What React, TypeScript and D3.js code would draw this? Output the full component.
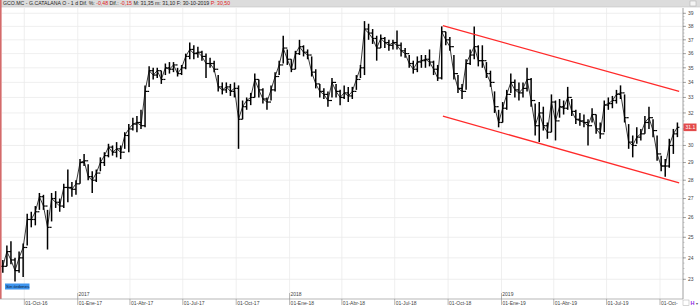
import React from 'react';
import * as d3 from 'd3';

const W = 700;
const H = 307;

// weekly bars, first week starting on START, one week apart
const START = '2016-08-25';
const HIGH = [
  23.9, 24.6, 24.8, 24.0, 24.3, 24.7, 26.2, 26.3, 26.6, 27.3, 27.2, 26.4, 27.3, 27.4, 27.0, 27.8, 28.6, 27.9, 28.0, 29.2,
  29.5, 28.9, 28.5, 28.6, 29.3, 29.6, 30.1, 30.0, 30.2, 30.0, 30.8, 31.3, 31.7, 31.8, 32.2, 33.8, 35.1, 35.0, 35.0, 34.8,
  35.3, 35.4, 35.4, 35.0, 35.2, 36.0, 36.8, 36.6, 36.5, 36.2, 36.0, 35.7, 35.5, 34.5, 34.0, 34.0, 33.9, 34.0, 33.8, 32.8,
  33.0, 33.3, 34.6, 34.2, 33.6, 33.0, 33.8, 34.7, 35.5, 37.3, 36.3, 35.6, 36.2, 37.0, 36.6, 36.3, 35.8, 34.9, 33.9, 33.6,
  33.4, 34.3, 33.9, 33.5, 33.8, 33.7, 33.7, 34.5, 35.2, 38.4, 38.2, 37.8, 37.3, 37.4, 37.2, 37.0, 37.0, 37.7, 36.8, 36.4,
  35.9, 35.5, 35.8, 35.9, 35.9, 36.3, 35.5, 35.2, 38.0, 37.6, 37.2, 35.9, 34.5, 33.9, 35.6, 36.3, 38.0, 36.6, 36.6, 35.4,
  34.8, 33.4, 32.2, 32.7, 33.5, 34.6, 34.2, 34.0, 34.0, 35.0, 34.3, 32.6, 32.7, 32.4, 31.4, 33.2, 32.8, 32.9, 32.8, 33.7,
  32.9, 32.2, 32.0, 31.9, 31.6, 32.3, 31.9, 31.4, 32.8, 33.0, 33.1, 33.5, 33.8, 33.2, 31.3, 30.6, 31.1, 31.0, 31.8, 32.4,
  31.6, 30.6, 29.4, 29.2, 30.4, 31.0, 31.4,
];
const LOW = [
  23.3, 23.6, 23.7, 22.9, 23.3, 23.1, 24.6, 25.5, 25.6, 26.4, 26.4, 24.4, 25.8, 26.5, 26.3, 26.5, 26.8, 27.1, 27.2, 27.8,
  28.8, 28.0, 27.3, 27.9, 28.5, 28.8, 29.3, 29.4, 29.3, 29.2, 29.8, 29.6, 30.9, 30.8, 31.0, 31.1, 33.7, 34.2, 34.3, 33.9,
  34.5, 34.6, 34.7, 34.4, 34.5, 34.9, 35.6, 35.6, 35.7, 35.5, 34.3, 35.0, 34.7, 33.4, 33.2, 33.3, 33.1, 33.0, 29.8, 31.6,
  32.2, 32.5, 33.0, 33.0, 32.6, 32.2, 32.8, 33.4, 34.5, 35.3, 35.2, 34.7, 34.9, 35.9, 35.8, 35.6, 34.4, 33.6, 33.0, 32.9,
  32.4, 33.0, 33.0, 32.5, 32.9, 32.7, 32.9, 33.5, 34.3, 34.5, 37.0, 36.7, 35.5, 36.4, 36.4, 36.2, 36.3, 36.3, 35.8, 35.7,
  35.0, 34.6, 34.7, 35.0, 35.0, 35.1, 34.5, 34.1, 34.2, 36.6, 36.2, 34.2, 33.3, 32.9, 33.5, 35.2, 35.6, 35.1, 35.0, 34.3,
  33.7, 32.0, 31.1, 31.4, 32.2, 33.3, 33.0, 32.8, 33.0, 33.4, 32.4, 30.6, 30.2, 30.9, 30.4, 30.8, 30.3, 31.7, 31.9, 32.2,
  31.8, 31.3, 31.2, 31.1, 30.0, 31.4, 30.7, 30.4, 30.8, 32.2, 32.3, 32.6, 32.9, 31.4, 29.8, 29.3, 30.1, 30.3, 30.7, 31.0,
  30.5, 29.1, 28.5, 28.2, 28.7, 29.5, 30.5,
];
const CLOSE = [
  23.6, 24.3, 23.9, 23.4, 24.0, 24.5, 25.9, 25.9, 26.3, 27.1, 26.6, 25.5, 27.0, 26.8, 26.6, 27.6, 27.6, 27.5, 27.8, 29.0,
  29.1, 28.2, 28.0, 28.4, 29.0, 29.4, 29.9, 29.6, 29.8, 29.6, 30.6, 31.0, 31.3, 31.4, 31.2, 33.4, 34.8, 34.5, 34.8, 34.2,
  35.0, 34.9, 35.2, 34.6, 35.0, 35.8, 36.3, 36.0, 36.1, 35.8, 35.3, 35.3, 34.9, 33.7, 33.5, 33.7, 33.4, 33.6, 31.6, 32.4,
  32.8, 33.0, 34.2, 33.5, 32.9, 32.7, 33.5, 34.4, 35.2, 36.4, 35.6, 34.9, 36.0, 36.5, 36.1, 35.9, 34.7, 33.9, 33.4, 33.2,
  32.8, 34.0, 33.4, 33.0, 33.3, 33.1, 33.4, 34.2, 35.0, 37.8, 37.5, 37.1, 36.4, 37.1, 36.8, 36.6, 36.8, 36.6, 36.2, 36.0,
  35.3, 34.9, 35.4, 35.5, 35.6, 35.4, 34.9, 34.3, 37.6, 37.0, 36.5, 34.6, 33.6, 33.4, 35.3, 35.9, 36.5, 35.5, 35.5, 34.6,
  34.0, 32.4, 31.4, 32.3, 33.2, 34.0, 33.5, 33.3, 33.6, 34.2, 32.8, 31.2, 32.0, 31.2, 30.8, 32.7, 31.5, 32.4, 32.3, 33.0,
  32.1, 31.6, 31.5, 31.4, 31.2, 31.9, 31.0, 30.7, 32.5, 32.6, 32.8, 33.2, 33.3, 31.7, 30.2, 30.0, 30.5, 30.7, 31.4, 31.7,
  30.9, 29.5, 28.8, 28.8, 30.0, 30.7, 31.1,
];

const QUARTER_DATES = [
  '2016-10-01', '2017-01-01', '2017-04-01', '2017-07-01', '2017-10-01', '2018-01-01', '2018-04-01',
  '2018-07-01', '2018-10-01', '2019-01-01', '2019-04-01', '2019-07-01', '2019-10-01',
];
const QUARTER_LABELS = [
  '01-Oct-16', '01-Ene-17', '01-Abr-17', '01-Jul-17', '01-Oct-17', '01-Ene-18', '01-Abr-18',
  '01-Jul-18', '01-Oct-18', '01-Ene-19', '01-Abr-19', '01-Jul-19', '01-Oct-',
];
const YEAR_DATES = ['2017-01-01', '2018-01-01', '2019-01-01'];
const YEAR_LABELS = ['2017', '2018', '2019'];
const PRICE_TICKS = [23, 24, 25, 26, 27, 28, 29, 30, 31, 32, 33, 34, 35, 36, 37, 38, 39];
const UPPER_CHANNEL_DATES = ['2018-09-22', '2019-11-03'];
const UPPER_CHANNEL_VALUES = [38.05, 33.4];
const LOWER_CHANNEL_DATES = ['2018-09-22', '2019-11-03'];
const LOWER_CHANNEL_VALUES = [31.8, 27.85];
const LAST_PRICE = 31.1;

const parse = d3.timeParse('%Y-%m-%d');
const FONT = '"Liberation Sans", Arial, sans-serif';

export default function App() {
  const plotTop = 8;
  const plotBottom = 299;
  const axisX = 683;

  const x = d3.scaleTime()
    .domain([parse('2016-10-01') as Date, parse('2019-10-01') as Date])
    .range([24.3, 660]);
  const y = d3.scaleLog().domain([23, 39]).range([279.3, 13.3]);

  const start = parse(START) as Date;
  const bars = HIGH.map((h, i) => ({
    date: d3.timeDay.offset(start, 7 * i),
    high: h,
    low: LOW[i],
    close: CLOSE[i],
    open: i > 0 ? CLOSE[i - 1] : CLOSE[i],
  }));

  const minorTicks: number[] = [];
  for (let v = 23; v < 39.01; v += 0.25) minorTicks.push(v);

  const line = d3.line<[Date, number]>().x((d) => x(d[0])).y((d) => y(d[1]));
  const upper = line(UPPER_CHANNEL_DATES.map((d, i) => [parse(d) as Date, UPPER_CHANNEL_VALUES[i]]));
  const lower = line(LOWER_CHANNEL_DATES.map((d, i) => [parse(d) as Date, LOWER_CHANNEL_VALUES[i]]));
  const closeLine = line(bars.map((b) => [b.date, b.close] as [Date, number]));

  const lastY = y(LAST_PRICE);
  const visibleTicks = PRICE_TICKS.filter((v) => Math.abs(y(v) - lastY) > 5);

  return (
    <svg width={W} height={H} style={{ position: 'absolute', left: 0, top: 0, background: '#fff' }} fontFamily={FONT}>
      <rect x={0} y={0} width={W} height={H} fill="#fff" />
      {/* grid */}
      {PRICE_TICKS.map((v) => (
        <line key={'hg' + v} x1={2} x2={axisX} y1={y(v)} y2={y(v)} stroke="#ebebeb" strokeWidth={0.8} />
      ))}
      {QUARTER_DATES.map((d) => {
        const xx = x(parse(d) as Date);
        return <line key={'vg' + d} x1={xx} x2={xx} y1={plotTop} y2={plotBottom} stroke="#ebebeb" strokeWidth={0.8} />;
      })}
      {/* bars */}
      <path d={closeLine || ''} stroke="#222" strokeWidth={0.9} fill="none" />
      <g stroke="#000" strokeWidth={1.5}>
        {bars.map((b, i) => {
          const xx = x(b.date);
          return (
            <g key={i}>
              <line x1={xx} x2={xx} y1={y(b.high)} y2={y(b.low)} />
              <line x1={xx - 2} x2={xx} y1={y(b.open)} y2={y(b.open)} strokeWidth={1.2} />
              <line x1={xx} x2={xx + 2} y1={y(b.close)} y2={y(b.close)} strokeWidth={1.2} />
            </g>
          );
        })}
      </g>
      {/* channel */}
      <path d={upper || ''} stroke="#ff2a2a" strokeWidth={1.3} fill="none" />
      <path d={lower || ''} stroke="#ff2a2a" strokeWidth={1.3} fill="none" />
      {/* header */}
      <rect x={0} y={0} width={W} height={7} fill="#dcdcdc" />
      <line x1={0} x2={W} y1={7} y2={7} stroke="#c4c4c4" strokeWidth={0.6} />
      <text x={3} y={5.3} fontSize={5.2} fill="#222">
        <tspan>GCO.MC - G.CATALANA O - 1 d  Dif. %: </tspan>
        <tspan fill="#e02020">-0,48</tspan>
        <tspan>  Dif.: </tspan>
        <tspan fill="#e02020">-0,15</tspan>
        <tspan>  M: 31,35  m: 31,10  F: 30-10-2019  </tspan>
        <tspan fill="#e02020">P: 30,50</tspan>
      </text>
      <rect x={690} y={1} width={6} height={5} fill="#f4f4f4" stroke="#aaa" strokeWidth={0.5} />
      {/* left red border */}
      <rect x={0} y={0} width={1.6} height={plotBottom} fill="#d46a6a" />
      {/* right axis */}
      <rect x={axisX} y={plotTop} width={W - axisX} height={plotBottom - plotTop} fill="#fff" />
      <line x1={axisX} x2={axisX} y1={plotTop} y2={plotBottom} stroke="#888" strokeWidth={0.8} />
      {minorTicks.map((v, i) => (
        <line key={'mt' + i} x1={axisX} x2={axisX + 1.5} y1={y(v)} y2={y(v)} stroke="#999" strokeWidth={0.5} />
      ))}
      {PRICE_TICKS.map((v) => (
        <line key={'ytl' + v} x1={axisX} x2={axisX + 3} y1={y(v)} y2={y(v)} stroke="#777" strokeWidth={0.6} />
      ))}
      {visibleTicks.map((v) => (
        <text key={'yt' + v} x={688} y={y(v) + 1.8} fontSize={5} fill="#444">{v}</text>
      ))}
      <rect x={axisX + 0.5} y={lastY - 3.8} width={13} height={7.6} fill="#e34b4b" />
      <text x={axisX + 2.5} y={lastY + 1.8} fontSize={5} fill="#fff">{LAST_PRICE}</text>
      {/* Sin órdenes */}
      <rect x={5} y={283.5} width={24.5} height={6} fill="#3d94ee" />
      <text x={6} y={288.2} fontSize={4.4} fill="#0a1a33">Sin órdenes</text>
      {/* bottom axis */}
      <line x1={0} x2={axisX} y1={plotBottom} y2={plotBottom} stroke="#999" strokeWidth={0.7} />
      {YEAR_DATES.map((d, i) => {
        const xx = x(parse(d) as Date);
        return (
          <g key={'yr' + d}>
            <line x1={xx} x2={xx} y1={plotBottom - 6} y2={plotBottom} stroke="#888" strokeWidth={0.6} />
            <text x={xx + 0.8} y={296.3} fontSize={5} fill="#444">{YEAR_LABELS[i]}</text>
          </g>
        );
      })}
      {QUARTER_DATES.map((d, i) => {
        const xx = x(parse(d) as Date);
        return (
          <g key={'qt' + d}>
            <line x1={xx} x2={xx} y1={plotBottom} y2={plotBottom + 6} stroke="#888" strokeWidth={0.6} />
            <text x={xx + 1} y={305} fontSize={5} fill="#444">{QUARTER_LABELS[i]}</text>
          </g>
        );
      })}
      <rect x={683} y={300} width={6} height={5.5} fill="#fff" stroke="#aaa" strokeWidth={0.5} />
      <text x={690.5} y={305.2} fontSize={5.5} fill="#8a2be2" fontWeight="bold">H</text>
      <text x={696} y={305} fontSize={4} fill="#555">▾</text>
    </svg>
  );
}
